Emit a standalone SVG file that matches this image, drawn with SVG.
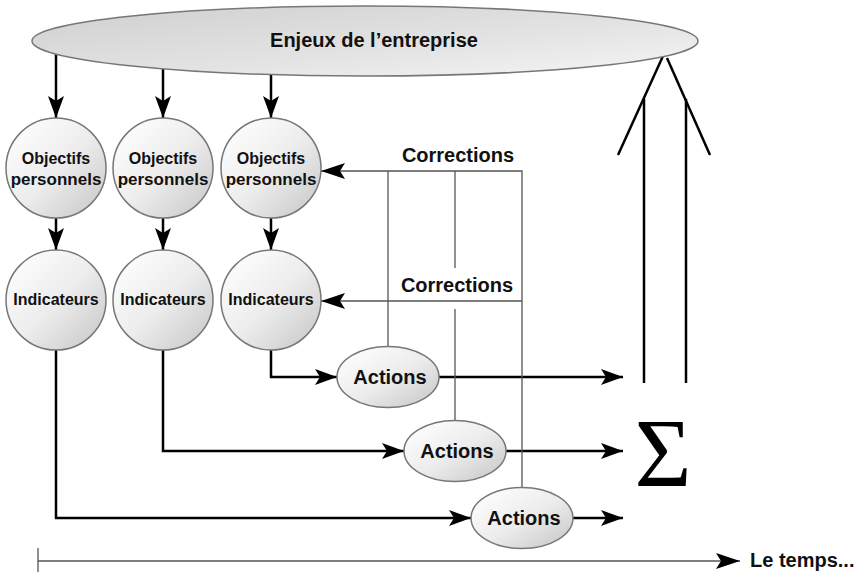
<svg xmlns="http://www.w3.org/2000/svg" width="860" height="572" viewBox="0 0 860 572">
<defs>
<linearGradient id="gBig" x1="0" y1="0" x2="1" y2="1">
<stop offset="0" stop-color="#cfcfcf"/>
<stop offset="0.6" stop-color="#e4e4e4"/>
<stop offset="1" stop-color="#f6f6f6"/>
</linearGradient>
<linearGradient id="gNode" x1="0.15" y1="0.15" x2="0.9" y2="0.9">
<stop offset="0" stop-color="#fbfbfb"/>
<stop offset="0.5" stop-color="#ececec"/>
<stop offset="1" stop-color="#cdcdcd"/>
</linearGradient>
<marker id="ah" viewBox="0 0 22 16" refX="22" refY="8" markerWidth="22" markerHeight="16" markerUnits="userSpaceOnUse" orient="auto">
<path d="M0,0 L22,8 L0,16 L5,8 Z" fill="#000"/>
</marker>
<marker id="ahs" viewBox="0 0 24 16" refX="24" refY="8" markerWidth="24" markerHeight="16" markerUnits="userSpaceOnUse" orient="auto">
<path d="M0,0 L24,8 L0,16 L5,8 Z" fill="#000"/>
</marker>
</defs>
<style>
.node{fill:url(#gNode);stroke:#777;stroke-width:1.5}
.big{fill:url(#gBig);stroke:#777;stroke-width:1.5}
.t{font-family:"Liberation Sans",Arial,sans-serif;font-weight:bold;fill:#111;text-anchor:middle}
.s16{font-size:16px}
.s17{font-size:17px}
.s20{font-size:20px}
.thick{fill:none;stroke:#000;stroke-width:2.5}
.thin{fill:none;stroke:#555;stroke-width:1.3}
</style>
<rect width="860" height="572" fill="#fff"/>

<g id="connectors">
<line class="thick" x1="56" y1="54" x2="56" y2="118" marker-end="url(#ah)"/>
<line class="thick" x1="163" y1="69" x2="163" y2="118" marker-end="url(#ah)"/>
<line class="thick" x1="271" y1="75" x2="271" y2="118" marker-end="url(#ah)"/>
<line class="thick" x1="56" y1="218" x2="56" y2="250" marker-end="url(#ah)"/>
<line class="thick" x1="163" y1="218" x2="163" y2="250" marker-end="url(#ah)"/>
<line class="thick" x1="271" y1="218" x2="271" y2="250" marker-end="url(#ah)"/>
<polyline class="thick" points="271,350 271,377 337,377" marker-end="url(#ah)"/>
<polyline class="thick" points="163,350 163,451 404,451" marker-end="url(#ah)"/>
<polyline class="thick" points="56,350 56,518 471,518" marker-end="url(#ah)"/>
<line class="thick" x1="439" y1="377" x2="623" y2="377" marker-end="url(#ah)"/>
<line class="thick" x1="506" y1="451" x2="623" y2="451" marker-end="url(#ah)"/>
<line class="thick" x1="573" y1="518" x2="623" y2="518" marker-end="url(#ah)"/>
<polyline class="thin" points="522,488 522,171 321,171" marker-end="url(#ahs)"/>
<polyline class="thin" points="522,301 321,301" marker-end="url(#ahs)"/>
<line class="thin" x1="388" y1="171" x2="388" y2="347"/>
<line class="thin" x1="455" y1="171" x2="455" y2="268"/>
<line class="thin" x1="455" y1="309" x2="455" y2="421"/>
<line class="thick" x1="618" y1="155" x2="663" y2="56"/>
<line class="thick" x1="667" y1="58" x2="710" y2="155"/>
<line class="thick" x1="644" y1="99" x2="644" y2="383"/>
<line class="thick" x1="686" y1="99" x2="686" y2="383"/>
<line class="thin" x1="38" y1="561" x2="740" y2="561" marker-end="url(#ahs)"/>
<line class="thin" x1="38" y1="548" x2="38" y2="572"/>
</g>

<g id="enjeux">
<ellipse class="big" cx="365" cy="41" rx="333" ry="35"/>
<text class="t s20" x="374" y="47">Enjeux de l’entreprise</text>
</g>

<g id="obj1"><circle class="node" cx="56" cy="168" r="50"/><text class="t s16" x="56" y="164">Objectifs</text><text class="t s17" x="56" y="185">personnels</text></g>
<g id="obj2"><circle class="node" cx="163" cy="168" r="50"/><text class="t s16" x="163" y="164">Objectifs</text><text class="t s17" x="163" y="185">personnels</text></g>
<g id="obj3"><circle class="node" cx="271" cy="168" r="50"/><text class="t s16" x="271" y="164">Objectifs</text><text class="t s17" x="271" y="185">personnels</text></g>

<g id="ind1"><circle class="node" cx="56" cy="300" r="50"/><text class="t s16" x="56" y="305">Indicateurs</text></g>
<g id="ind2"><circle class="node" cx="163" cy="300" r="50"/><text class="t s16" x="163" y="305">Indicateurs</text></g>
<g id="ind3"><circle class="node" cx="271" cy="300" r="50"/><text class="t s16" x="271" y="305">Indicateurs</text></g>

<g id="act1"><ellipse class="node" cx="388" cy="377" rx="51" ry="30.5"/><text class="t s20" x="390" y="384">Actions</text></g>
<g id="act2"><ellipse class="node" cx="455" cy="451" rx="51" ry="30.5"/><text class="t s20" x="457" y="458">Actions</text></g>
<g id="act3"><ellipse class="node" cx="522" cy="518" rx="51" ry="30.5"/><text class="t s20" x="524" y="525">Actions</text></g>

<g id="labels">
<text class="t s20" x="458" y="162">Corrections</text>
<text class="t s20" x="457" y="292">Corrections</text>
<text x="663" y="486" font-family="'Liberation Serif','Times New Roman',serif" font-size="98" text-anchor="middle" fill="#000">Σ</text>
<text class="t s20" x="750" y="567" style="text-anchor:start">Le temps...</text>
</g>
</svg>
